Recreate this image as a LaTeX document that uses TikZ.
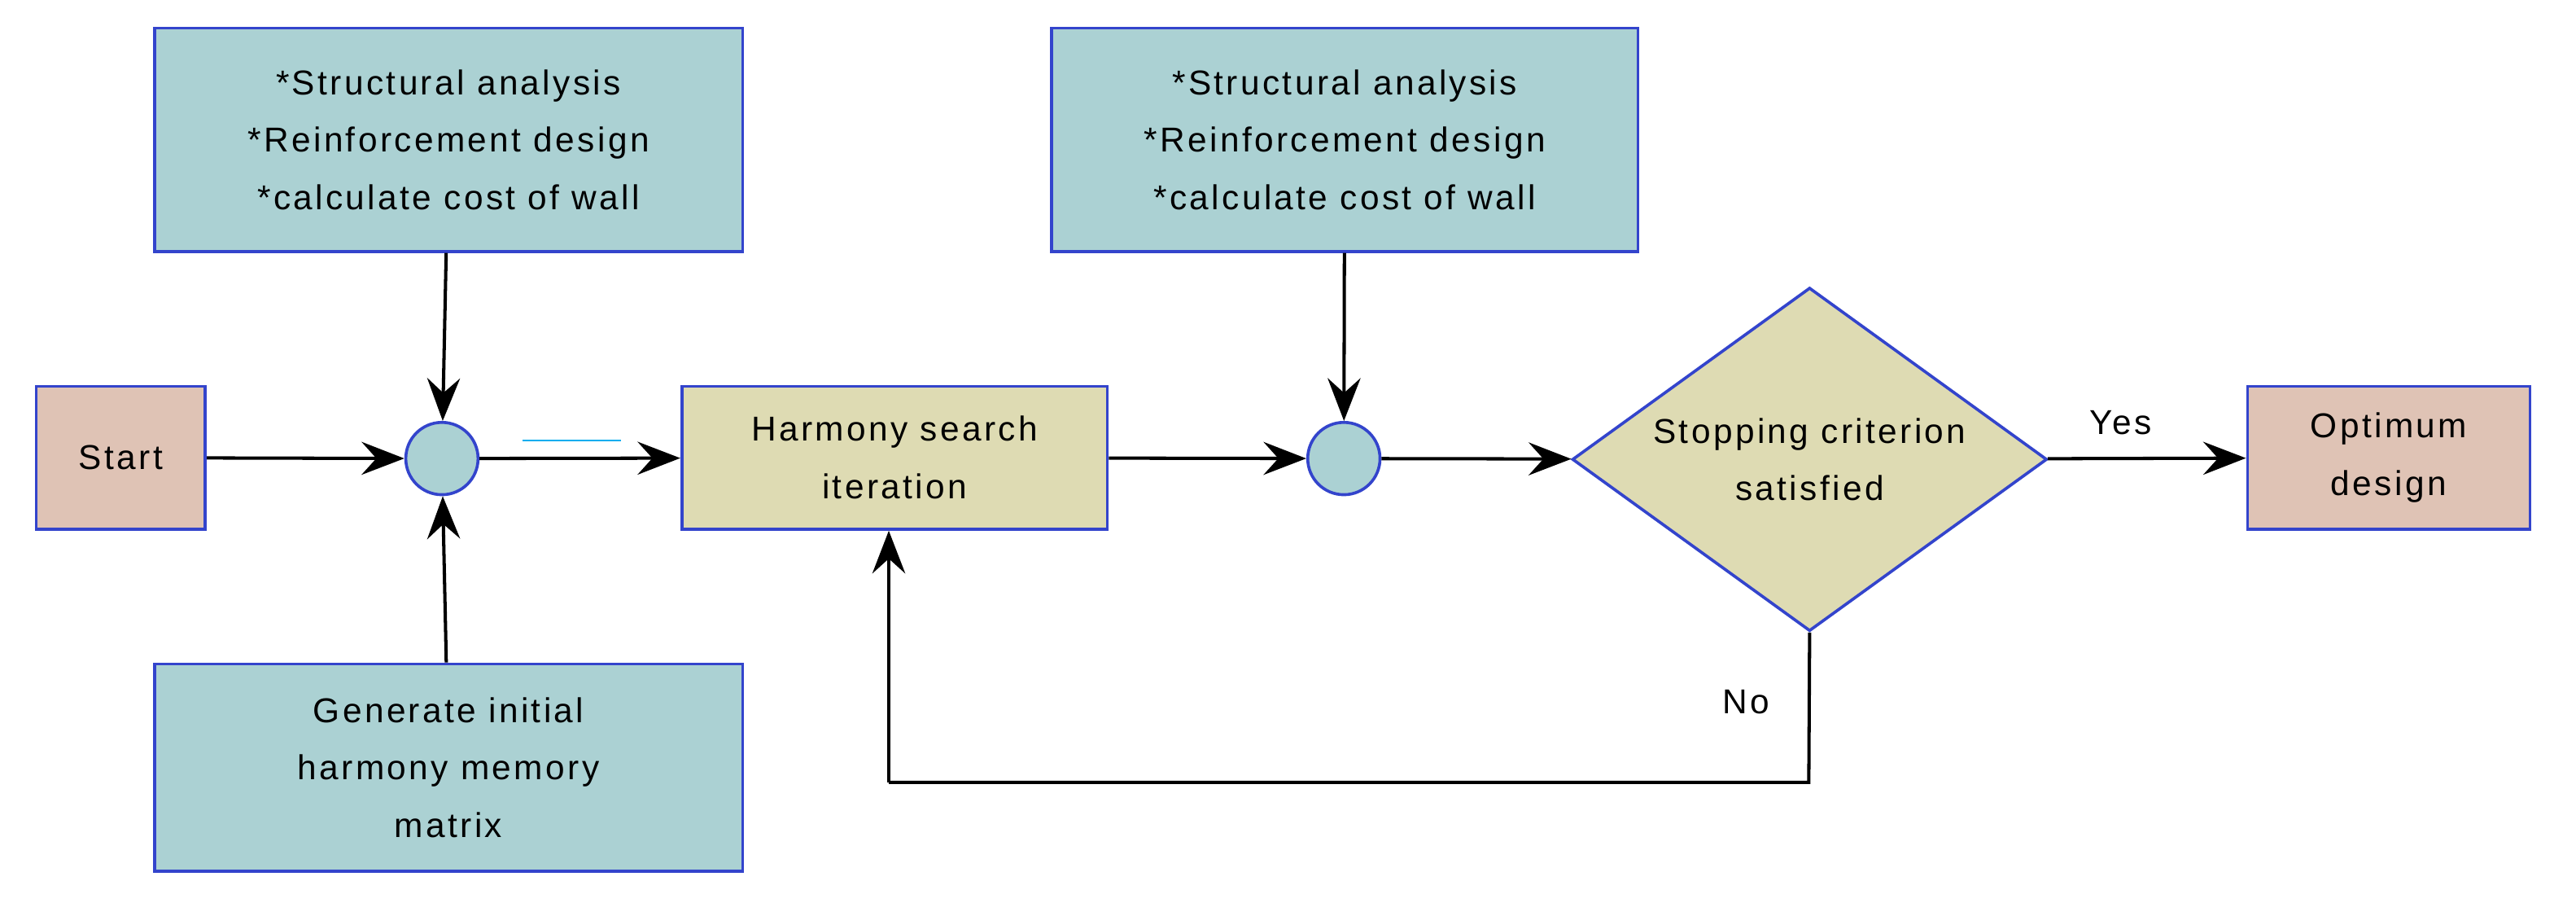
\documentclass[tikz,border=0pt]{standalone}
\usepackage{fontspec}
\setmainfont{Liberation Sans}[LetterSpace=8]
\usetikzlibrary{arrows.meta,shapes.geometric}
\definecolor{bl}{HTML}{3344CC}
\definecolor{teal}{HTML}{ABD1D3}
\definecolor{pink}{HTML}{DFC3B5}
\definecolor{khaki}{HTML}{DEDBB3}
\tikzset{x=1pt,y=-1pt,
 box/.style={draw=bl,line width=1.8pt,align=center,font=\fontsize{21}{35}\selectfont,inner sep=0pt},
 circ/.style={draw=bl,line width=1.8pt,circle,fill=teal,minimum size=44pt,inner sep=0pt},
 arr/.style={line width=2pt,-{Stealth[length=26pt,width=20pt,inset=9pt]}},
 lin/.style={line width=2pt},
 lbl/.style={font=\fontsize{21}{25}\selectfont}}
\begin{document}
\begin{tikzpicture}
\useasboundingbox (0,0) rectangle (1568,557);
\node[box,fill=pink,minimum width=103pt,minimum height=87pt] (start) at (73.5,278.5) {Start};
\node[box,fill=teal,minimum width=358pt,minimum height=136pt] (tl) at (273,85) {*Structural analysis\\*Reinforcement design\\*calculate cost of wall};
\node[box,fill=teal,minimum width=358pt,minimum height=126pt] (bl) at (273,467) {Generate initial\\harmony memory\\matrix};
\node[circ] (c1) at (269,279) {};
\node[box,fill=khaki,minimum width=259pt,minimum height=87pt] (hs) at (544.5,278.5) {Harmony search\\iteration};
\node[box,fill=teal,minimum width=357pt,minimum height=136pt] (tr) at (818.5,85) {*Structural analysis\\*Reinforcement design\\*calculate cost of wall};
\node[circ] (c2) at (818,279) {};
\node[box,fill=khaki,diamond,minimum width=289pt,minimum height=209pt,aspect=1.38] (d) at (1101.5,279.5) {Stopping criterion\\satisfied};
\node[box,fill=pink,minimum width=172pt,minimum height=87pt] (opt) at (1454,278.5) {Optimum\\design};
\coordinate (f1) at (1101,476);
\coordinate (f2) at (541,476);
\draw[arr] (start) -- (c1);
\draw[arr] (tl) -- (c1);
\draw[arr] (bl) -- (c1);
\draw[arr] (c1) -- (hs);
\draw[draw=cyan,line width=1pt] (318,268) -- (378,268);
\draw[arr] (hs) -- (c2);
\draw[arr] (tr) -- (c2);
\draw[arr] (c2) -- (d);
\draw[arr] (d) -- node[lbl,above=10pt,xshift=-16pt]{Yes} (opt);
\draw[lin] (d.south) -- (f1) -- (f2);
\draw[arr] (f2) -- (f2 |- hs.south);
\node[lbl] (no) at (1063,427) {No};
\end{tikzpicture}
\end{document}
